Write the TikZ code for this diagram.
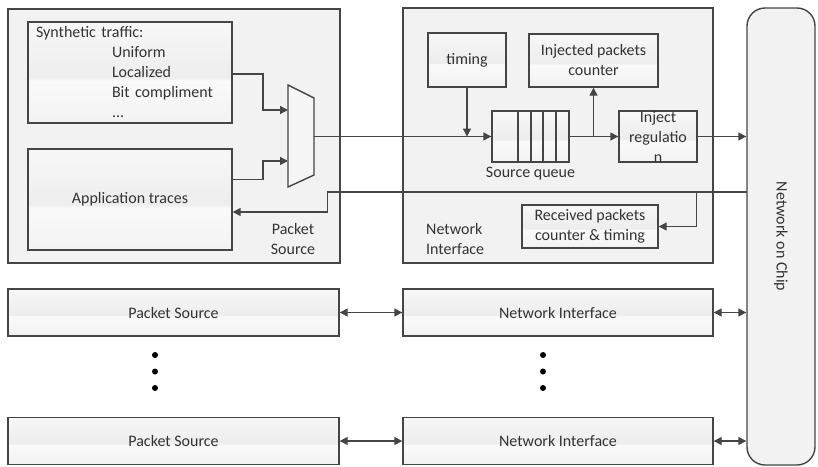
\documentclass[tikz,border=0pt]{standalone}
\usepackage{fontspec}
\setmainfont{Carlito}
\usetikzlibrary{arrows.meta}
\definecolor{lncol}{HTML}{454545}
\pgfdeclareverticalshading{gloss}{100bp}{color(0bp)=(black!5); color(25bp)=(black!5); color(46bp)=(white!98!black); color(47.5bp)=(black!7); color(75bp)=(black!3); color(100bp)=(black!3)}
\tikzset{
  box/.style={draw=lncol, line width=1.4pt, fill=black!5, inner sep=0pt},
  glossbox/.style={draw=lncol, line width=1.4pt, shading=gloss, inner sep=2pt, align=center},
  arr/.style={draw=lncol, line width=1.4pt, -{Triangle[length=8pt,width=8pt]}},
  dbl/.style={draw=lncol, line width=1.4pt, {Triangle[length=8pt,width=8pt]}-{Triangle[length=8pt,width=8pt]}},
  lbl/.style={inner sep=0pt, align=center},
}

\begin{document}
\begin{tikzpicture}[x=1pt, y=-1pt, font=\fontsize{16}{20}\selectfont, text=black!80]
  %%%%% START %%%%%
  \useasboundingbox (0,0) rectangle (818,466);
  \def\rowa{312.5}
  \def\rowb{441}

  % big blocks
  \node[box, minimum width=332, minimum height=254] (psbig) at (174,136) {};
  \node[box, minimum width=310, minimum height=255] (nibig) at (558,135.5) {};
  \node[box, rounded corners=18pt, minimum width=68, minimum height=457] (noc) at (781,236.5) {};
  \node[lbl, rotate=-90] (noclbl) at (noc.center) {Network on Chip};

  % packet source
  \node[glossbox, minimum width=204, minimum height=101, text width=188, inner xsep=8pt, align=left] (synth) at (130,72.5)
    {Synthetic traffic:\\ \hspace*{76pt}Uniform\\ \hspace*{76pt}Localized\\ \hspace*{76pt}Bit compliment\\ \hspace*{76pt}...};
  \node[glossbox, minimum width=204, minimum height=101] (app) at (130,199.5) {Application traces};
  \node[lbl] (pslbl) at (293,238.5) {Packet\\Source};

  % multiplexer
  \draw[draw=lncol, line width=1.4pt, fill=black!4] (288,85) -- (314,98) -- (314,175) -- (288,187) -- cycle;
  \coordinate (muxa) at (288,110);
  \coordinate (muxb) at (288,161);
  \coordinate (muxout) at (314,136.5);

  % network interface
  \node[glossbox, minimum width=78, minimum height=54] (timing) at (467,60) {timing};
  \node[glossbox, minimum width=129, minimum height=53] (injcnt) at (593.5,60.5) {Injected packets\\counter};
  \node[glossbox, minimum width=77, minimum height=51] (queue) at (530.5,136.5) {};
  \foreach \qx in {518,531,543,556}
    \draw[lncol, line width=1.4pt] (\qx,111) -- (\qx,162);
  \node[lbl] (qlbl) at (530.5,174) {Source queue};
  \node[glossbox, minimum width=78, minimum height=51, inner sep=0pt] (inj) at (658,136.5) {Inject\\regulatio\\n};
  \node[glossbox, minimum width=136, minimum height=43] (recv) at (590,226.5) {Received packets\\counter \& timing};
  \node[lbl, anchor=west, align=left] (nilbl) at (426,238.5) {Network\\Interface};

  % forward path
  \draw[arr] ([yshift=-1.5pt]synth.east) -| ([xshift=-25pt]muxa) -- (muxa);
  \draw[arr] ([yshift=20pt]app.east) -| ([xshift=-25pt]muxb) -- (muxb);
  \draw[arr] (muxout) -- (queue.west);
  \draw[arr] (timing.south) -- (timing.south |- queue.west);
  \draw[arr] (queue.east) -- (inj.west);
  \draw[arr] (injcnt.south |- queue.east) -- (injcnt.south);
  \draw[arr] (inj.east) -- (inj.east -| noc.west);

  % return path
  \coordinate (ret) at (747,192);
  \draw[arr] (ret) -| ([xshift=38pt]recv.east) -- (recv.east);
  \draw[arr] (ret) -| ([xshift=95pt,yshift=-12.5pt]app.east) -- ([yshift=-12.5pt]app.east);

  % other nodes
  \node[glossbox, minimum width=331, minimum height=47] (psa) at (173.5,\rowa) {Packet Source};
  \node[glossbox, minimum width=310, minimum height=47] (nia) at (558,\rowa) {Network Interface};
  \node[glossbox, minimum width=331, minimum height=47] (psb) at (173.5,\rowb) {Packet Source};
  \node[glossbox, minimum width=310, minimum height=47] (nib) at (558,\rowb) {Network Interface};
  \draw[dbl] (psa.east) -- (nia.west);
  \draw[dbl] (nia.east) -- (nia.east -| noc.west);
  \draw[dbl] (psb.east) -- (nib.west);
  \draw[dbl] (nib.east) -- (nib.east -| noc.west);

  \foreach \dy in {355,371.5,388} {
    \fill (155,\dy) circle (3);
    \fill (543,\dy) circle (3);
  }
  %%%%% END %%%%%
\end{tikzpicture}
\end{document}
